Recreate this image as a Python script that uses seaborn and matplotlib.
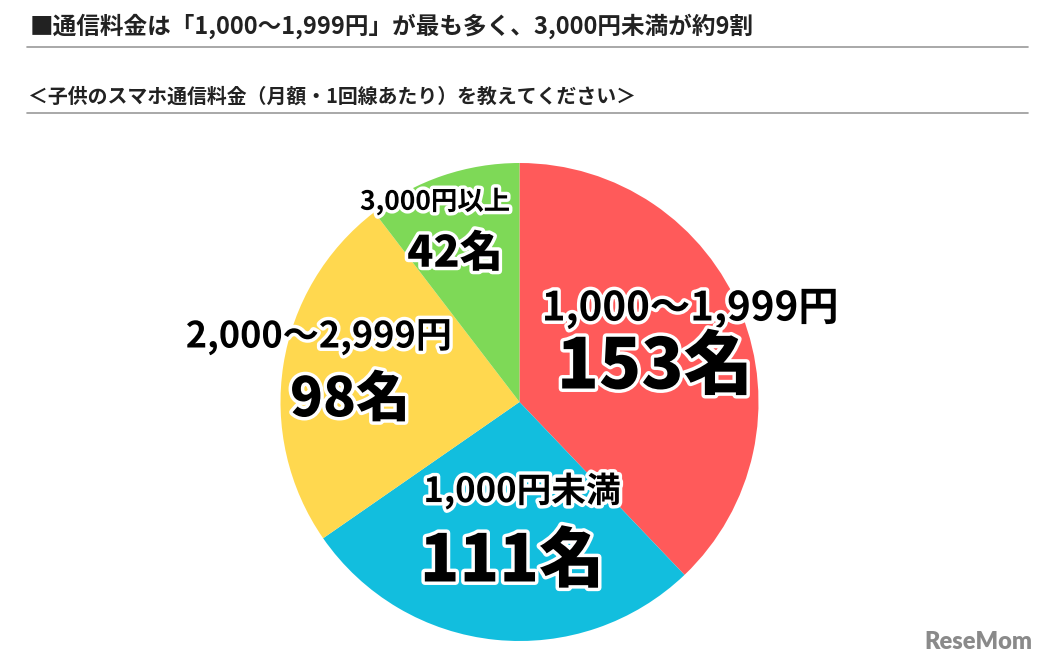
import matplotlib
matplotlib.use("Agg")
import matplotlib.pyplot as plt
import matplotlib.patheffects as pe
import seaborn as sns

# ---- data ----
categories = ["1,000〜1,999円", "1,000円未満", "2,000〜2,999円", "3,000円以上"]
counts = [153, 111, 98, 42]
colors = ["#FF5A5A", "#12BEDE", "#FFD84F", "#7ED957"]
title = "■通信料金は「1,000〜1,999円」が最も多く、3,000円未満が約9割"
subtitle = "＜子供のスマホ通信料金（月額・1回線あたり）を教えてください＞"
unit = "名"

sns.set_theme(style="white")
plt.rcParams["font.family"] = ["Noto Sans CJK JP", "DejaVu Sans"]

W, H = 1042, 668
fig = plt.figure(figsize=(W / 100, H / 100), dpi=100)
fig.patch.set_facecolor("white")

# pie axes: centre (519.5, 402) px, radius 239 px
cx, cy, r = 519.5, 402, 239
ax = fig.add_axes([(cx - r) / W, (H - cy - r) / H, 2 * r / W, 2 * r / H])
ax.pie(counts, colors=colors, startangle=90, counterclock=False,
       radius=1.0, wedgeprops=dict(linewidth=0))
ax.set_xlim(-1, 1)
ax.set_ylim(-1, 1)
ax.set_aspect("equal")
ax.axis("off")

stroke = [pe.withStroke(linewidth=5, foreground="white")]

def px(x, y):
    return ((x - cx) / r, (cy - y) / r)

# label positions (pixel centres) and sizes
cat_pos = [(690, 309), (522, 491), (319, 337), (435, 202)]
cat_size = [29, 25, 26, 19]
num_pos = [(655, 368), (512, 562), (350, 400), (455, 254)]
num_size = [50, 47, 39, 31]

for cat, n, cp, cs, npos, ns in zip(categories, counts, cat_pos, cat_size, num_pos, num_size):
    ax.text(*px(*cp), cat, ha="center", va="center", fontsize=cs,
            fontweight="bold", color="black", path_effects=stroke, clip_on=False)
    ax.text(*px(*npos), f"{n}{unit}", ha="center", va="center", fontsize=ns,
            fontweight="heavy", color="black", path_effects=stroke, clip_on=False)

# header texts and rules
fig.text(30 / W, 1 - 26 / H, title, ha="left", va="center", fontsize=17,
         fontweight="bold", color="#222222")
fig.add_artist(plt.Line2D([27 / W, 1028 / W], [1 - 47 / H, 1 - 47 / H],
                          color="#999999", linewidth=1.2))
fig.text(28 / W, 1 - 96 / H, subtitle, ha="left", va="center", fontsize=14.3,
         fontweight="bold", color="#222222")
fig.add_artist(plt.Line2D([27 / W, 1028 / W], [1 - 113 / H, 1 - 113 / H],
                          color="#999999", linewidth=1.2))

# watermark
fig.text(978 / W, 1 - 642 / H, "ReseMom", ha="center", va="center", fontsize=17,
         fontweight="heavy", color="#8a8a8a", family=["Lato", "DejaVu Sans"])

fig.savefig("out.png", dpi=100, facecolor="white")
